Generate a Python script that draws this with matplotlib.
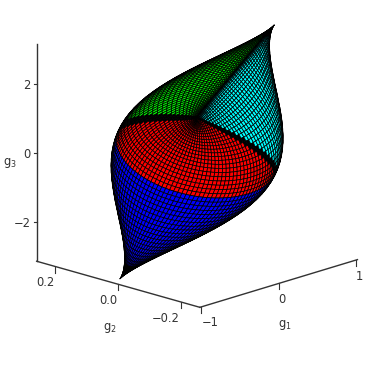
import numpy as np
import matplotlib
matplotlib.use("Agg")
import matplotlib.pyplot as plt
from matplotlib.lines import Line2D
from matplotlib.transforms import IdentityTransform
from mpl_toolkits.mplot3d import proj3d
from mpl_toolkits.mplot3d.art3d import Poly3DCollection

# Surface mesh: the picture shows a mathematical surface (Makhlin local invariants g1,g2,g3
# over the c2=c3 face of the Weyl chamber, split at its edge midpoints). Its thousands of mesh
# vertices cannot be read off the image, so they come from that definition.
pi = np.pi
face_colors = {"green": "#00ff00", "cyan": "#00ffff", "red": "#ff0000", "blue": "#0000ff", "rim": "#000000"}
x_ticks = [-1, 0, 1]; y_ticks = [-0.2, 0.0, 0.2]; z_ticks = [-2, 0, 2]
x_labels = ["\u22121", "0", "1"]; y_labels = ["\u22120.2", "0.0", "0.2"]; z_labels = ["\u22122", "0", "2"]
xlim = (-1.02, 1.02); ylim = (-0.26, 0.26); zlim = (-3.14, 3.14)
GRAY = "#333333"

def g(c1, c2, c3):
    g1 = np.cos(c1)**2*np.cos(c2)**2*np.cos(c3)**2 - np.sin(c1)**2*np.sin(c2)**2*np.sin(c3)**2
    g2 = 0.25*np.sin(2*c1)*np.sin(2*c2)*np.sin(2*c3)
    g3 = 4*g1 - np.cos(2*c1)*np.cos(2*c2)*np.cos(2*c3)
    return g1, g2, g3

def region(a, t):
    # crowded mesh lines in the reference read as solid black bands
    left, right = a - t, pi - a - t
    if min(a + t, pi - a + t) < 0.42 or t > pi/2 - 0.28:
        return "rim"
    if t > pi/4:
        return "rim" if left < 0.06 else "blue"
    if a + t < pi/2:
        return "rim" if left < 0.16 or pi/2 - a - t < 0.04 or t < 0.03 else "green"
    if a - t > pi/2:
        return "rim" if right < 0.08 or a - t - pi/2 < 0.02 or t < 0.03 else "cyan"
    return "rim" if abs(a - pi/2) > t - 0.02 else "red"

fig = plt.figure(figsize=(3.74, 3.74), dpi=100)
ax = fig.add_axes([5/374, 30/374, 1, 1], projection="3d", proj_type="ortho")
ax.view_init(elev=17, azim=-136)
N = 120
c1g = np.linspace(0, pi, N+1)
tg = np.linspace(0, pi/2, N//2+1)
polys, cols = [], []
for i in range(N):
    for j in range(N//2):
        c = [(c1g[i], tg[j]), (c1g[i+1], tg[j]), (c1g[i+1], tg[j+1]), (c1g[i], tg[j+1])]
        if any(t > a + 1e-9 or t > pi - a + 1e-9 for a, t in c):
            continue
        polys.append([g(a, t, t) for a, t in c])
        cols.append(face_colors[region(c1g[i] + pi/(2*N), tg[j] + pi/(4*N))])
pc = Poly3DCollection(polys, facecolors=cols, edgecolors="k", linewidths=0.55)
ax.add_collection3d(pc)
ax.set_xlim(*xlim); ax.set_ylim(*ylim); ax.set_zlim(*zlim)
ax.set_box_aspect((1, 1, 1), zoom=1.02)
ax.set_axis_off()
fig.canvas.draw()

def px(x, y, z):
    xs, ys, _ = proj3d.proj_transform(x, y, z, ax.get_proj())
    return ax.transData.transform((xs, ys))

def seg(p, q, lw=1.0):
    fig.add_artist(Line2D([p[0], q[0]], [p[1], q[1]], color=GRAY, lw=lw, transform=IdentityTransform()))

def label(xp, yp, s, ha):
    fig.text(xp/374, yp/374, s, ha=ha, va="center", fontsize=8.3, color=GRAY)

corner = px(xlim[0], ylim[0], zlim[0])
seg(corner, px(xlim[1], ylim[0], zlim[0]))
seg(corner, px(xlim[0], ylim[1], zlim[0]))
seg(px(xlim[0], ylim[1], zlim[0]), px(xlim[0], ylim[1], zlim[1]))
for t, s in zip(x_ticks, x_labels):
    p = px(t, ylim[0], zlim[0])
    seg(p, (p[0], p[1]-6), 0.8)
    label(p[0], p[1]-16, s, "left")
for t, s in zip(y_ticks, y_labels):
    p = px(xlim[0], t, zlim[0])
    seg(p, (p[0], p[1]-6), 0.8)
    label(p[0]-1, p[1]-16, s, "right")
for t, s in zip(z_ticks, z_labels):
    p = px(xlim[0], ylim[1], t)
    seg(p, (p[0]-3, p[1]), 0.8)
    label(p[0]-6, p[1]-2, s, "right")
fig.text(285/374, 1-325/374, "$\\mathrm{g_1}$", ha="center", va="center", fontsize=8.3, color=GRAY)
fig.text(110/374, 1-328/374, "$\\mathrm{g_2}$", ha="center", va="center", fontsize=8.3, color=GRAY)
fig.text(10/374, 1-163/374, "$\\mathrm{g_3}$", ha="center", va="center", fontsize=8.3, color=GRAY)
fig.savefig("out.png", dpi=100)
